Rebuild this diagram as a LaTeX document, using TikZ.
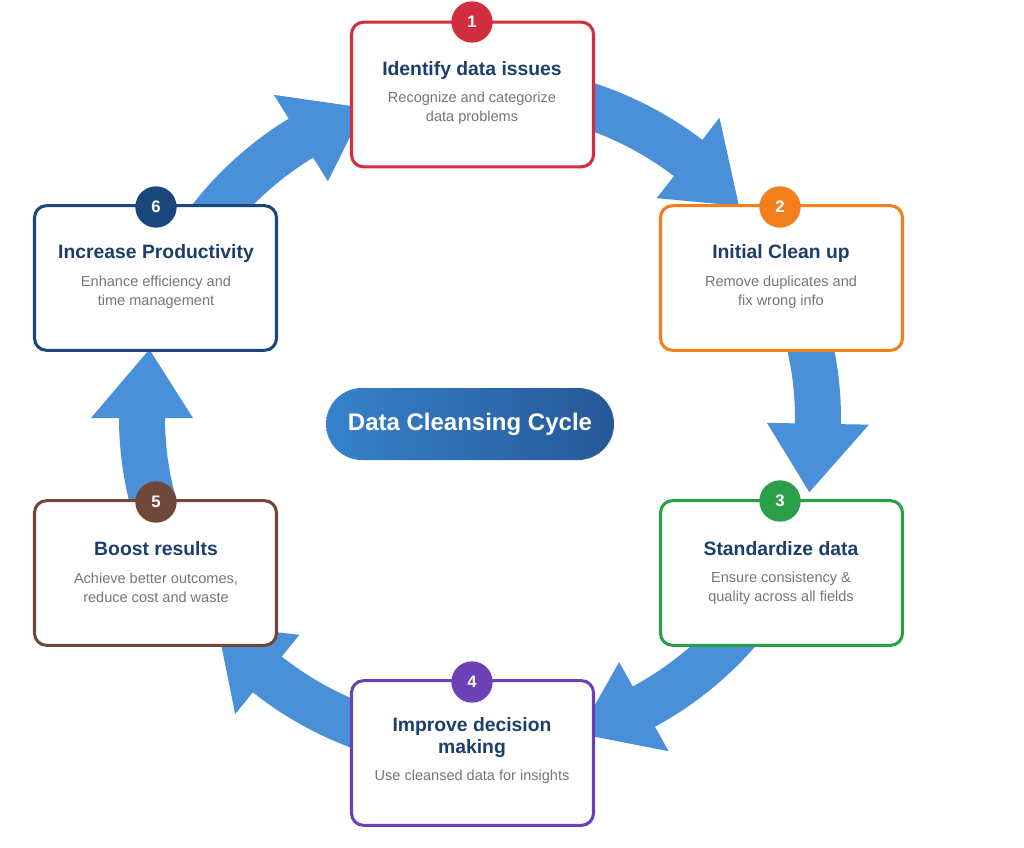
\documentclass[tikz,border=0pt]{standalone}
\usepackage{fontspec}
\setmainfont{Liberation Sans}
\usetikzlibrary{calc}

\definecolor{arrowblue}{RGB}{74,144,217}
\definecolor{titlenavy}{RGB}{28,62,108}
\definecolor{descgray}{RGB}{118,118,118}
\definecolor{cred}{RGB}{208,46,62}
\definecolor{corange}{RGB}{243,126,28}
\definecolor{cgreen}{RGB}{42,158,72}
\definecolor{cpurple}{RGB}{108,64,182}
\definecolor{cbrown}{RGB}{112,72,58}
\definecolor{cnavy}{RGB}{26,72,124}
\definecolor{pillleft}{RGB}{54,130,204}
\definecolor{pillright}{RGB}{38,88,150}

\tikzset{
  card/.style={draw=#1, fill=white, line width=2.3pt, rounded corners=9pt,
    minimum width=181.5pt, minimum height=108.5pt, inner sep=0pt},
  badge/.style={circle, fill=#1, minimum size=31pt, inner sep=0pt, text=white,
    font=\bfseries\fontsize{12.5}{12.5}\selectfont},
  ttl/.style={text=titlenavy, align=center, inner sep=0pt,
    font=\bfseries\fontsize{14.5}{16.5}\selectfont},
  dsc/.style={text=descgray, align=center, inner sep=0pt,
    font=\fontsize{10.9}{14.3}\selectfont},
  pill/.style={rounded corners=27pt, minimum width=216pt, minimum height=54pt,
    left color=pillleft, right color=pillright,
    text=white, font=\bfseries\fontsize{18}{20}\selectfont}
}

% block arrow on the cycle: tail angle, barb angle, tip angle
\newcommand{\cyclearrow}[3]{%
  \fill[arrowblue] plot[domain=#1:#2, samples=25] ({480+361*cos(\x)},{418+353*sin(\x)})
    -- ({480+389*cos(#2)},{418+381*sin(#2)})
    -- ({480+338*cos(#3)},{418+330*sin(#3)})
    -- ({480+287*cos(#2)},{418+279*sin(#2)})
    -- plot[domain=#2:#1, samples=25] ({480+315*cos(\x)},{418+307*sin(\x)}) -- cycle;
}

\begin{document}
\begin{tikzpicture}[x=0.75pt, y=-0.75pt]
\useasboundingbox[fill=white] (0,0) rectangle (1024,848);

% arrows behind the cards
\cyclearrow{-75}{-52}{-40}
\cyclearrow{-18}{1}{13}
\cyclearrow{36}{61}{73}
\cyclearrow{108}{129}{141}
\cyclearrow{160}{180}{192}
\cyclearrow{216}{238}{250}

% cards
\node[card=cred]    (C1) at (472.5,94.5) {};
\node[card=corange] (C2) at (781.5,278) {};
\node[card=cgreen]  (C3) at (781.5,573) {};
\node[card=cpurple] (C4) at (472.5,753) {};
\node[card=cbrown]  (C5) at (155.5,573) {};
\node[card=cnavy]   (C6) at (155.5,278) {};

% badges
\node[badge=cred]    (N1) at (472,22)  {1};
\node[badge=corange] (N2) at (780,207) {2};
\node[badge=cgreen]  (N3) at (780,501) {3};
\node[badge=cpurple] (N4) at (472,682) {4};
\node[badge=cbrown]  (N5) at (156,502) {5};
\node[badge=cnavy]   (N6) at (156,207) {6};

% texts
\node[ttl] (T1) at (472,71) {Identify data issues};
\node[dsc] (D1) at (472,108) {Recognize and categorize\\data problems};
\node[ttl] (T2) at (781,254) {Initial Clean up};
\node[dsc] (D2) at (781,292) {Remove duplicates and\\fix wrong info};
\node[ttl] (T3) at (781,549) {Standardize data};
\node[dsc] (D3) at (781,588) {Ensure consistency \&\\quality across all fields};
\node[ttl] (T4) at (472,738) {Improve decision\\making};
\node[dsc] (D4) at (472,777) {Use cleansed data for insights};
\node[ttl] (T5) at (156,549) {Boost results};
\node[dsc] (D5) at (156,588) {Achieve better outcomes,\\reduce cost and waste};
\node[ttl] (T6) at (156,254) {Increase Productivity};
\node[dsc] (D6) at (156,292) {Enhance efficiency and\\time management};

% centre title
\node[pill] (P) at (470,424) {Data Cleansing Cycle};
\end{tikzpicture}
\end{document}
